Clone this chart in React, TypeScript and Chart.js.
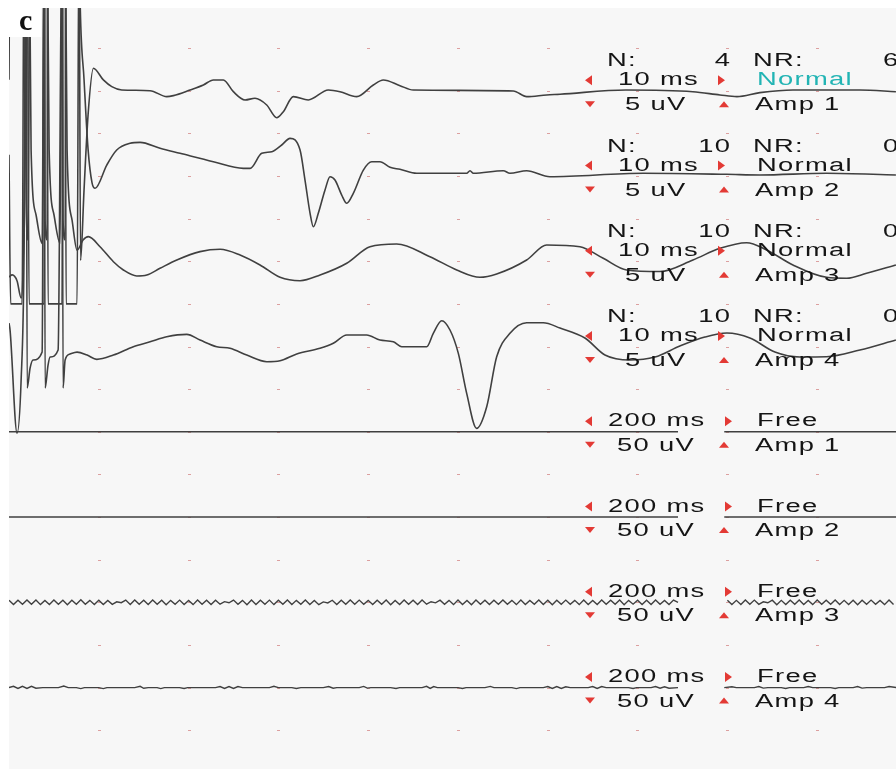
import { useEffect, useRef } from 'react';
import { Chart, registerables } from 'chart.js';

Chart.register(...registerables);

// ---- Upper traces (10 ms/div, 5 uV/div): time in ms, amplitude in uV ----
const amp1Ms = [0, 0.12, 1.68, 1.91, 2.13, 2.35, 3.91, 4.02, 4.24, 4.35, 5.91, 6.02, 6.25, 6.36, 7.8, 7.97, 8.36, 8.81,
  9.4, 10.51, 11.45, 12.56, 15.71, 17.57, 18.31, 20.17, 21.65, 22.76, 23.88, 24.99, 26.29, 27.4, 28.71, 29.82, 30.56,
  31.67, 33.34, 35.57, 36.87, 38.73, 40.58, 41.69, 43.55, 45.03, 56.17, 57.66, 59.89, 61.37, 68.72, 76.18, 79.19,
  81.08, 83.64, 87.32, 94.78, 98.79];
const amp1Uv = [1.3, 20, 20, -12.8, -17.5, 20, 20, -15.2, -17.5, 20, 20, -15.2, -17.5, 20, 20, -19.9, -11.6, -2.8,
  2.64, 1.27, 0.48, 0.09, 0.01, -0.69, -0.57, 0.09, 0.68, 1.27, 1.27, -0.11, -1.08, -0.88, -1.67, -3.16, -2.45,
  -0.69, -1.08, 0.09, -0.11, -0.69, 0.68, 1.27, 0.6, 0.09, -0.02, -0.69, -0.49, -0.41, 0.09, -0.11, -0.49,
  -0.69, -0.22, 0.09, 0.09, -0.11];

const amp2Ms = [0, 0.18, 1.46, 1.68, 2.02, 2.24, 3.91, 4.02, 4.24, 4.35, 5.91, 6.02, 6.25, 6.36, 7.58, 7.8, 7.92, 8.36,
  8.81, 9.25, 9.59, 10.89, 12.0, 13.49, 14.6, 16.83, 19.05, 22.76, 26.1, 26.85, 28.15, 29.27, 30.38, 31.3, 32.42,
  32.97, 33.53, 33.9, 34.45, 35.2, 35.76, 36.31, 37.06, 37.62, 38.35, 39.47, 40.4, 41.32, 42.44, 43.55, 45.41,
  50.98, 51.35, 51.72, 55.06, 55.8, 57.66, 60.25, 70.65, 79.93, 83.64, 91.07, 98.79];
const amp2Uv = [2.5, -15, -15, 30, 30, -15, -15, 30, 30, -15, -15, 30, 30, -15, -15, 30, 20.6, 11.3,
  3.1, -0.8, -1.44, 1.29, 3.05, 3.84, 3.95, 3.25, 2.66, 1.68, 0.9, 0.9, 2.66, 2.85, 3.64, 4.42, 3.05,
  -0.47, -4.34, -5.95, -4.38, -1.64, -0.08, -0.47, -2.23, -3.2, -2.03, 0.7, 1.68, 1.68, 1.02, 0.79, 0.32,
  0.32, 0.62, 0.32, 0.62, 0.32, 0.62, -0.08, 0.32, 0.2, 0.12, 0.32, 0.12];

const amp3Ms = [0, 0.35, 0.9, 1.35, 1.68, 1.91, 2.24, 2.46, 3.02, 3.69, 3.91, 4.24, 4.47, 5.02, 5.69, 5.91, 6.25, 6.47,
  7.03, 7.58, 8.25, 8.84, 10.14, 11.63, 12.74, 14.23, 15.35, 16.82, 18.69, 21.28, 23.51, 25.74, 27.96, 30.19, 32.42,
  34.65, 37.62, 40.21, 43.18, 46.89, 49.87, 52.46, 54.32, 57.66, 59.89, 63.6, 66.19, 68.8, 72.51, 76.18, 79.19,
  82.16, 84.39, 87.32, 91.07, 93.3, 95.52, 98.79];
const amp3Uv = [-1.84, -1.6, -2.31, -4.3, 7.2, 40, 40, 13.1, 5.4, 2.1, 40, 40, 13.1, 5.4, 2.1, 40, 40, 13.1,
  4.8, 1.3, 2.5, 2.89, 1.71, -0.05, -1.02, -1.72, -1.61, -0.82, 0.15, 1.13, 1.41, 0.74, -0.43, -1.88, -2.28,
  -1.61, -0.23, 1.71, 2.03, 0.54, -1.02, -1.88, -1.49, 0.15, 1.91, 1.71, 0.35, -1.02, -1.2, 0.15, 1.52,
  2.18, 1.33, -0.43, -1.88, -1.99, -1.41, -0.43];

const amp4Ms = [0, 0.12, 0.9, 1.35, 1.68, 1.91, 2.02, 2.35, 2.68, 3.69, 3.91, 4.02, 4.35, 4.58, 5.47, 5.91, 6.02, 6.25,
  6.8, 7.58, 8.7, 9.78, 11.63, 13.85, 15.71, 17.57, 19.8, 21.28, 23.14, 24.62, 26.48, 28.71, 30.19, 32.05, 34.64,
  36.12, 37.62, 39.84, 41.32, 42.81, 43.74, 46.53, 47.26, 48.2, 49.12, 50.05, 50.98, 52.09, 53.21, 54.32, 55.8,
  57.66, 59.51, 61.37, 64.15, 66.38, 69.16, 71.95, 74.73, 77.51, 79.96, 82.53, 85.31, 88.09, 91.07, 94.78, 98.79];
const amp4Uv = [2.76, 1.9, -10.15, -3.93, 11.32, 50, -4.87, -2.52, -1.58, -0.65, 50, -4.87, -2.17, -1.23, -0.41, 50, -4.87, -1.58,
  -0.88, -0.65, -1.0, -1.5, -1.0, -0.02, 0.56, 1.15, 1.43, 0.76, -0.02, -0.21, -1.0, -1.78, -1.67, -0.88, -0.21,
  0.38, 1.35, 1.35, 0.76, 0.56, -0.02, -0.02, 1.55, 3.03, 1.94, -0.8, -5.49, -9.6, -7.06, -1.2, 1.55,
  2.79, 2.79, 2.17, 1.0, -0.99, -1.58, -1.23, 0.06, 1.11, 1.58, 1.0, -0.65, -1.23, -1.2, -0.41, 0.76];

// ---- Lower traces (200 ms/div, 50 uV/div, free run) ----
const freeFlatMs = [0, 1490, 1540, 1593, 1976];
const freeFlatUv = [0, 0, null, 0, 0];

const freeSampleStepMs = 10;
const free3Uv = [
  2.3, -2.6, 2.5, -2.2, 2.8, -2.4, 2.6, -2.7, 2.2, -2.5,
  2.7, -2.3, 2.4, -2.8, 2.5, -2.2, 2.9, -2.4, 2.3, -2.6,
  2.5, -2.7, 2.2, -2.4, 0.6, -0.4, 2.6, -2.5, 2.8, -2.3,
  2.4, -2.6, 2.7, -2.2, 2.5, -2.8, 2.3, -2.4, 2.6, -2.5,
  2.2, -2.7, 2.8, -2.3, 2.4, -2.6, 2.5, -2.2, 0.8, -0.5,
  2.6, -2.4, 2.3, -2.8, 2.7, -2.5, 2.4, -2.3, 2.6, -2.7,
  2.5, -2.2, 2.8, -2.6, 2.3, -2.4, 2.7, -2.5, 2.2, -2.8,
  0.5, -0.7, 2.4, -2.6, 2.5, -2.3, 2.8, -2.4, 2.6, -2.2,
  2.3, -2.7, 2.5, -2.4, 2.6, -2.8, 2.2, -2.5, 2.7, -2.3,
  2.4, -2.6, 2.8, -2.2, 0.7, -0.6, 2.5, -2.4, 2.3, -2.7,
  2.6, -2.5, 2.2, -2.8, 2.7, -2.3, 2.4, -2.6, 2.5, -2.2,
  2.8, -2.4, 2.3, -2.7, 2.6, -2.5, 2.2, -2.3, 2.7, -2.6,
  2.4, -2.8, 2.5, -2.2, 2.6, -2.4, 2.3, -2.7, 2.8, -2.5,
  2.2, -2.6, 2.7, -2.3, 2.5, -2.4, 2.6, -2.8, 2.3, -2.2,
  2.5, -2.7, 2.4, -2.6, 2.8, -2.3, 2.2, -2.5, 2.6, 0,
  null, null, null, null, null, null, null, null, null, null,
  2.4, -2.6, 2.3, -2.5, 2.7, -2.2, 2.6, -2.4, 0.6, -0.5,
  2.5, -2.8, 2.3, -2.6, 2.4, -2.3, 2.8, -2.5, 2.2, -2.7,
  2.6, -2.4, 2.5, -2.2, 2.7, -2.6, 2.3, -2.5, 2.4, -2.8,
  2.5, -2.3, 2.6, -2.4, 2.2, -2.7, 2.8, -2.5,
];

const free4Ms = [0, 10, 20, 30, 40, 50, 60, 75, 110, 122, 132, 150, 160, 168, 200, 210, 218, 280, 292, 300, 310, 330,
  338, 346, 380, 390, 398, 460, 470, 480, 490, 500, 510, 520, 580, 590, 600, 630, 640, 650, 700, 712, 722, 730,
  780, 790, 798, 806, 850, 862, 870, 920, 930, 938, 946, 954, 1000, 1010, 1018, 1060, 1072, 1080, 1120, 1130,
  1138, 1190, 1200, 1210, 1220, 1230, 1240, 1250, 1290, 1300, 1310, 1320, 1330, 1380, 1390, 1398, 1430, 1440,
  1450, 1460, 1470, 1490, 1540, 1593, 1610, 1620, 1660, 1670, 1680, 1690, 1720, 1730, 1738, 1770, 1780, 1790,
  1830, 1840, 1848, 1880, 1890, 1900, 1910, 1950, 1960, 1976];
const free4Uv = [0, 1.5, -1, 1.5, -1, 1.5, -0.8, 0, 0, 1.8, 0, 0, -1.2, 0, 0, -1.2, 0, 0, 1.5, -0.8, 0, 0,
  -1.2, 0, 0, -1, 0, 0, 1.2, -1, 1.2, -1, 1.2, 0, 0, 1.5, 0, 0, -1, 0, 0, 1.2, -0.8, 0,
  0, 1.4, -0.6, 0, 0, -1, 0, 0, 1.5, -1, 1.2, 0, 0, -1, 0, 0, 1.4, 0, 0, -1.2,
  0, 0, 1.2, -1, 1.2, -1, 1, 0, 0, 1.2, -1, 1.2, 0, 0, -1.1, 0, 0, 1.2,
  -0.8, 1, -0.8, 0, null, 0, 1, 0, 0, 1.2, -0.6, 0, 0, -1, 0, 0, 1.3, 0,
  0, -1, 0, 0, 1.2, -0.6, 0, 0, 1.2, 0];

// ---- Labels ----
const channelNames = ['Amp 1', 'Amp 2', 'Amp 3', 'Amp 4'];
const sweepCounts = ['4', '10', '10', '10'];
const rejectCounts = ['6', '0', '0', '0'];
const upperModes = ['Normal', 'Normal', 'Normal', 'Normal'];
const upperTimebase = '10 ms';
const upperSensitivity = '5 uV';
const lowerTimebase = '200 ms';
const lowerSensitivity = '50 uV';
const lowerMode = 'Free';
const panelLabel = 'c';

const upperUvPerDiv = 5;
const lowerUvPerDiv = 50;
const upperRows = [2, 4, 6, 8];
const lowerRows = [10, 12, 14, 16];

const TRACE = '#404040';
const TEXT = '#151515';
const RED = '#e33a35';
const CYAN = '#22b4b4';
const STRETCH = 1.52;
const SPACING = 1.3;

function toPoints(ms: number[], uv: (number | null)[], row: number, perDiv: number) {
  return ms.map((t, i) => ({ x: t, y: uv[i] == null ? null : row - (uv[i] as number) / perDiv }));
}

function spaced(ctx: CanvasRenderingContext2D, text: string, x: number, y: number, align = 'left') {
  const chars = [...text];
  const ws = chars.map((c) => ctx.measureText(c).width * STRETCH);
  const total = ws.reduce((a, b) => a + b, 0) + SPACING * (chars.length - 1);
  let cx = align === 'right' ? x - total : x;
  chars.forEach((c, i) => {
    ctx.save();
    ctx.translate(cx, y);
    ctx.scale(STRETCH, 1);
    ctx.fillText(c, 0, 0);
    ctx.restore();
    cx += ws[i] + SPACING;
  });
}

function triLeft(ctx: CanvasRenderingContext2D, x: number, cy: number) {
  ctx.beginPath(); ctx.moveTo(x + 7, cy - 5); ctx.lineTo(x + 7, cy + 5); ctx.lineTo(x, cy); ctx.closePath(); ctx.fill();
}
function triRight(ctx: CanvasRenderingContext2D, x: number, cy: number) {
  ctx.beginPath(); ctx.moveTo(x, cy - 5); ctx.lineTo(x, cy + 5); ctx.lineTo(x + 7, cy); ctx.closePath(); ctx.fill();
}
function triDown(ctx: CanvasRenderingContext2D, x: number, cy: number) {
  ctx.beginPath(); ctx.moveTo(x, cy - 3); ctx.lineTo(x + 10, cy - 3); ctx.lineTo(x + 5, cy + 3); ctx.closePath(); ctx.fill();
}
function triUp(ctx: CanvasRenderingContext2D, x: number, cy: number) {
  ctx.beginPath(); ctx.moveTo(x, cy + 3); ctx.lineTo(x + 10, cy + 3); ctx.lineTo(x + 5, cy - 3); ctx.closePath(); ctx.fill();
}

const screenPlugin = {
  id: 'screen',
  beforeDraw(chart: any) {
    const { ctx, chartArea: a, width, height } = chart;
    ctx.save();
    ctx.fillStyle = '#ffffff';
    ctx.fillRect(0, 0, width, height);
    ctx.fillStyle = '#f7f7f7';
    ctx.fillRect(a.left, a.top, a.right - a.left, a.bottom - a.top);
    const xs = chart.scales.x;
    const ys = chart.scales.y;
    ctx.fillStyle = '#dca0a0';
    for (let j = 1; j <= 9; j++) {
      for (let k = 1; k <= 17; k++) {
        const px = Math.round(xs.getPixelForValue(j * 10));
        const py = Math.round(ys.getPixelForValue(k));
        ctx.fillRect(px - 1, py, 3, 1);
      }
    }
    ctx.restore();
  },
  afterDatasetsDraw(chart: any) {
    const { ctx } = chart;
    const ys = chart.scales.y;
    ctx.save();
    ctx.font = "18px 'Liberation Sans', Arial, sans-serif";
    ctx.textBaseline = 'alphabetic';
    upperRows.forEach((row, k) => {
      const r = ys.getPixelForValue(row);
      ctx.fillStyle = TEXT;
      spaced(ctx, 'N:', 607, r - 24.4);
      spaced(ctx, sweepCounts[k], 730, r - 24.4, 'right');
      spaced(ctx, 'NR:', 753, r - 24.4);
      spaced(ctx, rejectCounts[k], 883, r - 24.4);
      spaced(ctx, upperTimebase, 618, r - 5.4);
      ctx.fillStyle = k === 0 ? CYAN : TEXT;
      spaced(ctx, upperModes[k], 757, r - 5.4);
      ctx.fillStyle = TEXT;
      spaced(ctx, upperSensitivity, 625, r + 19.6);
      spaced(ctx, channelNames[k], 755, r + 19.6);
      ctx.fillStyle = RED;
      triLeft(ctx, 585, r - 10.5);
      triRight(ctx, 718, r - 10.5);
      triDown(ctx, 585, r + 13.5);
      triUp(ctx, 719, r + 13.5);
    });
    lowerRows.forEach((row, k) => {
      const r = ys.getPixelForValue(row);
      ctx.fillStyle = TEXT;
      spaced(ctx, lowerTimebase, 608, r - 5.4);
      spaced(ctx, lowerMode, 757, r - 5.4);
      spaced(ctx, lowerSensitivity, 617, r + 19);
      spaced(ctx, channelNames[k], 755, r + 19);
      ctx.fillStyle = RED;
      triLeft(ctx, 585, r - 10.5);
      triRight(ctx, 725, r - 10.5);
      triDown(ctx, 585, r + 13);
      triUp(ctx, 719, r + 13);
    });
    // panel label
    ctx.fillStyle = '#ffffff';
    ctx.fillRect(0, 0, 41, 37);
    ctx.fillStyle = '#111';
    ctx.font = "bold 30px 'Liberation Serif', 'Times New Roman', serif";
    ctx.fillText(panelLabel, 19, 30);
    ctx.restore();
  },
};

export default function App() {
  const ref = useRef<HTMLCanvasElement | null>(null);
  useEffect(() => {
    if (!ref.current) return;
    const upper = [
      [amp1Ms, amp1Uv], [amp2Ms, amp2Uv], [amp3Ms, amp3Uv], [amp4Ms, amp4Uv],
    ].map(([ms, uv], i) => ({
      label: channelNames[i] + ' ' + upperTimebase,
      data: toPoints(ms as number[], uv as number[], upperRows[i], upperUvPerDiv),
      xAxisID: 'x',
      yAxisID: 'y',
      borderColor: TRACE,
      borderWidth: 1.6,
      pointRadius: 0,
      cubicInterpolationMode: 'monotone' as const,
      borderJoinStyle: 'round' as const,
    }));
    const free3Ms = free3Uv.map((_, i) => i * freeSampleStepMs);
    const lowerSets: [number[], (number | null)[]][] = [
      [freeFlatMs, freeFlatUv], [freeFlatMs, freeFlatUv], [free3Ms, free3Uv], [free4Ms, free4Uv],
    ];
    const lower = lowerSets.map(([ms, uv], i) => ({
      label: channelNames[i] + ' ' + lowerTimebase,
      data: toPoints(ms, uv, lowerRows[i], lowerUvPerDiv),
      xAxisID: 'x2',
      yAxisID: 'y',
      borderColor: TRACE,
      borderWidth: 1.4,
      pointRadius: 0,
      tension: 0,
      spanGaps: false,
    }));
    const chart = new Chart(ref.current, {
      type: 'line',
      data: { datasets: [...upper, ...lower] as any },
      options: {
        animation: false,
        responsive: false,
        maintainAspectRatio: false,
        layout: { padding: { left: 9, top: 8, right: 0, bottom: 0 } },
        plugins: { legend: { display: false }, tooltip: { enabled: false }, title: { display: false } },
        events: [],
        scales: {
          x: { type: 'linear', min: 0, max: 98.8, display: false },
          x2: { type: 'linear', min: 0, max: 1975.5, display: false },
          y: { type: 'linear', min: 0.0586, max: 17.91, reverse: true, display: false },
        },
      },
      plugins: [screenPlugin],
    });
    return () => chart.destroy();
  }, []);
  return (
    <div style={{ position: 'absolute', left: 0, top: 0, width: 896, height: 769 }}>
      <canvas ref={ref} width={896} height={769} style={{ display: 'block' }} />
    </div>
  );
}
